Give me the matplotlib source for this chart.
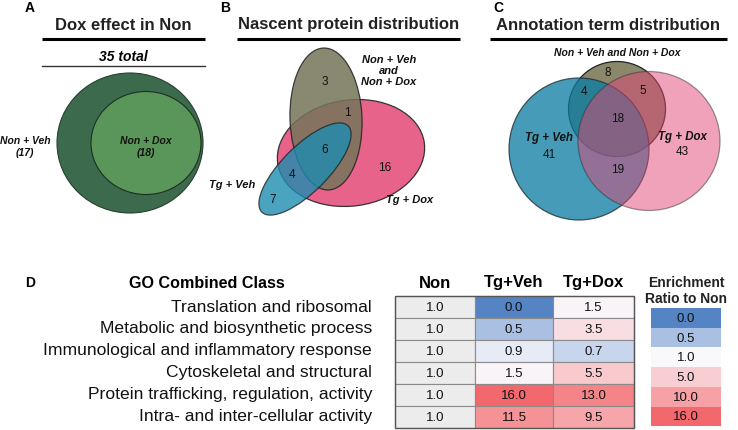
import numpy as np
import matplotlib
matplotlib.use("Agg")
import matplotlib.pyplot as plt
from matplotlib.patches import Ellipse, Rectangle
from matplotlib.colors import LinearSegmentedColormap

plt.rcParams['font.family'] = ['Liberation Sans', 'DejaVu Sans']

# panel A
a_labels = ['Non + Veh', 'Non + Dox']
a_counts = [17, 18]

# panel B: region counts
b_counts = {'non_only': 3, 'non_dox': 1, 'all': 6, 'veh_dox': 4, 'dox_only': 16, 'veh_only': 7}

# panel C: region counts
c_counts = {'non_only': 8, 'non_veh': 4, 'non_dox': 5, 'all': 18, 'veh_only': 41, 'dox_only': 43, 'veh_dox': 19}

# panel D
go_classes = ['Translation and ribosomal', 'Metabolic and biosynthetic process',
              'Immunological and inflammatory response', 'Cytoskeletal and structural',
              'Protein trafficking, regulation, activity', 'Intra- and inter-cellular activity']
groups = ['Non', 'Tg+Veh', 'Tg+Dox']
non_ratio = [1.0, 1.0, 1.0, 1.0, 1.0, 1.0]
veh_ratio = [0.0, 0.5, 0.9, 1.5, 16.0, 11.5]
dox_ratio = [1.5, 3.5, 0.7, 5.5, 13.0, 9.5]
legend_vals = [0.0, 0.5, 1.0, 5.0, 10.0, 16.0]
legend_cols = ['#5584c4', '#a9c0e2', '#f9f9fc', '#f8ced2', '#f6a1a5', '#f2686c']

cmap = LinearSegmentedColormap.from_list(
    'enrich', [(v / 16.0, c) for v, c in zip(legend_vals, legend_cols)])

fig = plt.figure(figsize=(7.38, 4.30), dpi=100)
ax = fig.add_axes([0, 0, 1, 1])
ax.set_xlim(0, 738)
ax.set_ylim(430, 0)
ax.set_aspect('auto')
ax.axis('off')

bi = dict(fontweight='bold', fontstyle='italic', fontsize=7.5, ha='center', va='center', color='#111111')
num = dict(fontsize=8.5, ha='center', va='center', color='#111111')

def heading(x0, x1, y, text, letter, lx):
    ax.text((x0 + x1) / 2, y, text, fontsize=12, fontweight='bold', ha='center', va='center', color='#222222')
    ax.plot([x0, x1], [y + 14, y + 14], color='black', lw=2.2, solid_capstyle='butt')
    ax.text(lx, 8, letter, fontsize=10, fontweight='bold', ha='center', va='center')

# ---- A ----
heading(42, 205, 25, 'Dox effect in Non', 'A', 30)
ax.text(123, 57, f'{sum(a_counts)} total', fontsize=10, fontweight='bold', fontstyle='italic', ha='center', va='center')
ax.plot([42, 205], [66, 66], color='#333333', lw=1.0)
ax.add_patch(Ellipse((130, 143), 146, 140, facecolor='#3b6a4c', edgecolor='#2a3f30', lw=0.8))
ax.add_patch(Ellipse((146, 143), 110, 103, facecolor='#5a9659', edgecolor='#1f2f22', lw=0.8))
ax.text(25, 147, f'{a_labels[0]}\n({a_counts[0]})', linespacing=1.3, **bi)
ax.text(146, 147, f'{a_labels[1]}\n({a_counts[1]})', linespacing=1.3, **bi)

# ---- B ----
heading(237, 460, 25, 'Nascent protein distribution', 'B', 225)
ax.add_patch(Ellipse((351, 153), 148, 106, angle=-8, facecolor='#e8638a', edgecolor='#333333', lw=0.9))
ax.add_patch(Ellipse((326, 119), 72, 142, angle=-2, facecolor='#757559', alpha=0.85, edgecolor='#222222', lw=0.9))
ax.add_patch(Ellipse((305, 169), 122, 46, angle=-45, facecolor='#1d8cb0', alpha=0.8, edgecolor='#222222', lw=0.9))
ax.text(325, 82, b_counts['non_only'], **num)
ax.text(347, 113, b_counts['non_dox'], **num)
ax.text(325, 150, b_counts['all'], **num)
ax.text(292, 175, b_counts['veh_dox'], **num)
ax.text(385, 168, b_counts['dox_only'], **num)
ax.text(273, 200, b_counts['veh_only'], **num)
ax.text(389, 71, 'Non + Veh\nand\nNon + Dox', linespacing=1.15, **dict(bi, fontsize=8))
ax.text(410, 200, 'Tg + Dox', **dict(bi, fontsize=8))
ax.text(232, 185, 'Tg + Veh', **dict(bi, fontsize=8))

# ---- C ----
heading(490, 727, 25, 'Annotation term distribution', 'C', 498)
ax.add_patch(Ellipse((617, 109), 97, 95, facecolor='#8a876b', edgecolor='#222222', lw=0.9))
ax.add_patch(Ellipse((579, 149), 140, 142, facecolor='#0a7ca2', alpha=0.76, edgecolor='#1f2a30', lw=0.9))
ax.add_patch(Ellipse((649, 141), 142, 139, facecolor='#e14775', alpha=0.5, edgecolor='#333333', lw=0.9))
ax.text(617, 53, 'Non + Veh and Non + Dox', **bi)
ax.text(608, 73, c_counts['non_only'], **num)
ax.text(584, 92, c_counts['non_veh'], **num)
ax.text(643, 91, c_counts['non_dox'], **num)
ax.text(618, 119, c_counts['all'], **num)
ax.text(618, 170, c_counts['veh_dox'], **num)
ax.text(549, 138, 'Tg + Veh', **dict(bi, fontsize=8.3))
ax.text(549, 155, c_counts['veh_only'], **num)
ax.text(682, 137, 'Tg + Dox', **dict(bi, fontsize=8.3))
ax.text(682, 152, c_counts['dox_only'], **num)

# ---- D ----
ax.text(30, 283, 'D', fontsize=10, fontweight='bold', ha='center', va='center')
ax.text(207, 283, 'GO Combined Class', fontsize=11.6, fontweight='bold', ha='center', va='center')
top, rh = 296, 22
col_x = [395, 475, 553, 634]
for i, name in enumerate(go_classes):
    ax.text(372, top + rh * (i + 0.5), name, fontsize=12.6, ha='right', va='center', color='#111111')
for j, g in enumerate(groups):
    ax.text((col_x[j] + col_x[j + 1]) / 2, 283, g, fontsize=12, fontweight='bold', ha='center', va='center')
cells = [non_ratio, veh_ratio, dox_ratio]
narrow = dict(fontsize=9.5, ha='center', va='center', color='#111111')
for j, col in enumerate(cells):
    for i, v in enumerate(col):
        fc = '#ececec' if j == 0 else cmap(v / 16.0)
        ax.add_patch(Rectangle((col_x[j], top + rh * i), col_x[j + 1] - col_x[j], rh,
                               facecolor=fc, edgecolor='#8a8a8a', lw=0.8))
        ax.text((col_x[j] + col_x[j + 1]) / 2, top + rh * (i + 0.5) + 1, f'{v:.1f}', **narrow)
ax.add_patch(Rectangle((col_x[0], top), col_x[-1] - col_x[0], rh * 6, fill=False, edgecolor='#555555', lw=1.0))

ax.text(686, 291, 'Enrichment\nRatio to Non', fontsize=10, fontweight='bold', ha='center', va='center',
        linespacing=1.1, color='#222222')
lh = 19.7
for k, (v, c) in enumerate(zip(legend_vals, legend_cols)):
    ax.add_patch(Rectangle((651, 308 + lh * k), 70, lh, facecolor=cmap(v / 16.0), edgecolor='none'))
    ax.text(686, 308 + lh * (k + 0.5) + 1, f'{v:.1f}', **narrow)

fig.savefig('out.png', dpi=100)
